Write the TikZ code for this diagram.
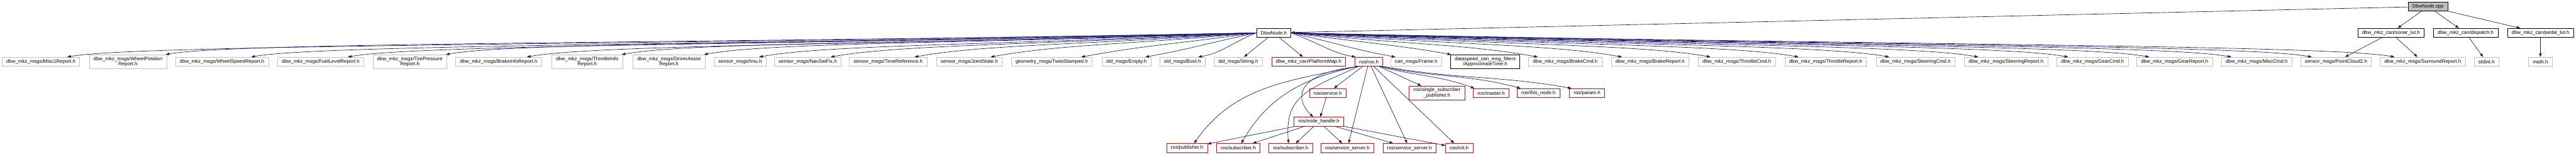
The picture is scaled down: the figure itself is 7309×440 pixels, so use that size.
\documentclass[tikz,border=0pt]{standalone}
\usepackage{fontspec}
\setmainfont{Liberation Sans}
\usetikzlibrary{arrows.meta,calc}
\definecolor{edgeblue}{HTML}{191970}
\definecolor{greyline}{HTML}{BFBFBF}
\definecolor{truncred}{HTML}{FF0000}

\tikzset{
  hdr/.style={draw=greyline, fill=white, line width=0.75pt, rectangle, inner xsep=9pt, inner ysep=2pt,
    minimum height=19.5pt, align=center, font=\fontsize{10.6}{11.5}\selectfont},
  twoline/.style={minimum height=30pt},
  redhdr/.style={hdr, draw=truncred},
  dochdr/.style={hdr, draw=black},
  srcfile/.style={hdr, draw=black, fill=greyline},
  dep/.style={draw=edgeblue, line width=0.9pt, -{Triangle[length=7.5pt,width=5.5pt]}},
}

\begin{document}
\begin{tikzpicture}[x=0.75pt,y=-0.75pt]
  \useasboundingbox (0,0) rectangle (7309,440);
  % top two rows
  \node[srcfile] (cpp) at (6889,18.5) {DbwNode.cpp};
  \node[dochdr] (dbwh) at (3614,93.5) {DbwNode.h};
  \node[dochdr] (sonar) at (6784,93.5) {dbw\_mkz\_can/sonar\_lut.h};
  \node[dochdr] (dispatch) at (6996,93.5) {dbw\_mkz\_can/dispatch.h};
  \node[dochdr] (pedal) at (7208,93.5) {dbw\_mkz\_can/pedal\_lut.h};
  % included headers
  \node[hdr] (misc1) at (116,175.5) {dbw\_mkz\_msgs/Misc1Report.h};
  \node[hdr,twoline] (wpos) at (363,175.5) {dbw\_mkz\_msgs/WheelPosition\\Report.h};
  \node[hdr] (wspeed) at (630,175.5) {dbw\_mkz\_msgs/WheelSpeedReport.h};
  \node[hdr] (fuel) at (910,175.5) {dbw\_mkz\_msgs/FuelLevelReport.h};
  \node[hdr,twoline] (tire) at (1163,175.5) {dbw\_mkz\_msgs/TirePressure\\Report.h};
  \node[hdr] (brakeinfo) at (1415,175.5) {dbw\_mkz\_msgs/BrakeInfoReport.h};
  \node[hdr,twoline] (thrinfo) at (1666,175.5) {dbw\_mkz\_msgs/ThrottleInfo\\Report.h};
  \node[hdr,twoline] (drvassist) at (1898,175.5) {dbw\_mkz\_msgs/DriverAssist\\Report.h};
  \node[hdr] (imu) at (2100,175.5) {sensor\_msgs/Imu.h};
  \node[hdr] (navsat) at (2292,175.5) {sensor\_msgs/NavSatFix.h};
  \node[hdr] (timeref) at (2520,175.5) {sensor\_msgs/TimeReference.h};
  \node[hdr] (joint) at (2750,175.5) {sensor\_msgs/JointState.h};
  \node[hdr] (twist) at (2984,175.5) {geometry\_msgs/TwistStamped.h};
  \node[hdr] (empty) at (3196,175.5) {std\_msgs/Empty.h};
  \node[hdr] (bool) at (3355,175.5) {std\_msgs/Bool.h};
  \node[hdr] (string) at (3513,175.5) {std\_msgs/String.h};
  \node[redhdr] (platmap) at (3713,175.5) {dbw\_mkz\_can/PlatformMap.h};
  \node[redhdr] (ros) at (3884,175.5) {ros/ros.h};
  \node[hdr] (frame) at (4018,175.5) {can\_msgs/Frame.h};
  \node[dochdr,twoline] (apx) at (4214,175.5) {dataspeed\_can\_msg\_filters\\/ApproximateTime.h};
  \node[hdr] (brakecmd) at (4441,175.5) {dbw\_mkz\_msgs/BrakeCmd.h};
  \node[hdr] (brakerep) at (4682,175.5) {dbw\_mkz\_msgs/BrakeReport.h};
  \node[hdr] (thrcmd) at (4928,175.5) {dbw\_mkz\_msgs/ThrottleCmd.h};
  \node[hdr] (thrrep) at (5180,175.5) {dbw\_mkz\_msgs/ThrottleReport.h};
  \node[hdr] (steercmd) at (5435,175.5) {dbw\_mkz\_msgs/SteeringCmd.h};
  \node[hdr] (steerrep) at (5692,175.5) {dbw\_mkz\_msgs/SteeringReport.h};
  \node[hdr] (gearcmd) at (5937,175.5) {dbw\_mkz\_msgs/GearCmd.h};
  \node[hdr] (gearrep) at (6170,175.5) {dbw\_mkz\_msgs/GearReport.h};
  \node[hdr] (misccmd) at (6403,175.5) {dbw\_mkz\_msgs/MiscCmd.h};
  \node[hdr] (pc2) at (6628,175.5) {sensor\_msgs/PointCloud2.h};
  \node[hdr] (surround) at (6874,175.5) {dbw\_mkz\_msgs/SurroundReport.h};
  \node[hdr] (stdint) at (7055,175.5) {stdint.h};
  \node[hdr] (mathh) at (7208,175.5) {math.h};
  % ros headers
  \node[redhdr] (service) at (3767,264.5) {ros/service.h};
  \node[redhdr,twoline] (single) at (4077,264.5) {ros/single\_subscriber\\\_publisher.h};
  \node[redhdr] (master) at (4231,264.5) {ros/master.h};
  \node[redhdr] (thisnode) at (4365,264.5) {ros/this\_node.h};
  \node[redhdr] (param) at (4503,264.5) {ros/param.h};
  \node[redhdr] (nh) at (3742,346) {ros/node\_handle.h};
  \node[redhdr] (pub) at (3368,421) {ros/publisher.h};
  \node[redhdr] (subA) at (3513,421) {ros/subscriber.h};
  \node[redhdr] (subB) at (3662,421) {ros/subscriber.h};
  \node[redhdr] (ssA) at (3823,421) {ros/service\_server.h};
  \node[redhdr] (ssB) at (3999,421) {ros/service\_server.h};
  \node[redhdr] (init) at (4140,421) {ros/init.h};

  % DbwNode.cpp and its small headers
  \foreach \t in {dbwh,sonar,dispatch,pedal}
    \draw[dep] (cpp) -- (\t);
  \draw[dep] (sonar) -- (pc2);
  \draw[dep] (sonar) -- (surround);
  \draw[dep] (dispatch) -- (stdint);
  \draw[dep] (pedal) -- (mathh);

  % DbwNode.h, fan to the left
  \foreach \t/\a/\o/\d in {misc1/north/75/200, wpos/north east/-3/200, wspeed/north/83/200,
      fuel/north/77/200, tire/north east/-3/200, brakeinfo/north/80/200, thrinfo/north east/-3/200,
      drvassist/north east/-3/200, imu/north/54/200, navsat/north/65/200, timeref/north/75/200,
      joint/north/61/200, twist/north/84/200, empty/north/54/120, bool/north/45/70}{
    \coordinate (tip) at ($(\t.\a)+(\o,0)$);
    \draw[dep] (dbwh.west) .. controls ($(dbwh.west)!0.5!(tip)$) and ($(tip)+(\d,{-0.18*\d})$) .. (tip);
  }
  \draw[dep] (dbwh) -- (string);
  \draw[dep] (dbwh) -- (platmap);
  % DbwNode.h, fan to the right
  \foreach \t/\a/\o/\d in {ros/north west/2/70, frame/north/-59/110, apx/north west/2/150,
      brakecmd/north/-78/200, brakerep/north/-80/200, thrcmd/north/-75/200, thrrep/north/-77/200,
      steercmd/north/-75/200, steerrep/north/-79/200, gearcmd/north/-69/200, gearrep/north/-72/200,
      misccmd/north/-72/200, pc2/north/-69/200, surround/north/-80/200}{
    \coordinate (tip) at ($(\t.\a)+(\o,0)$);
    \draw[dep] (dbwh.east) .. controls ($(dbwh.east)!0.5!(tip)$) and ($(tip)+(-\d,{-0.18*\d})$) .. (tip);
  }

  % ros/ros.h
  \foreach \t in {service,single,ssA,ssB,init}
    \draw[dep] (ros) -- (\t);
  \draw[dep] ($(ros.south east)+(-9,0)$) to[out=-15,in=160] ($(master.north west)+(4,0)$);
  \draw[dep] ($(ros.south east)+(-5,0)$) to[out=-12,in=165] ($(thisnode.north west)+(10,0)$);
  \draw[dep] (ros.south east) to[out=-10,in=170] ($(param.north west)+(6,0)$);
  \draw[dep] ($(ros.south west)+(5,0)$) to[out=192,in=55] ($(pub.north)+(20,0)$);
  \draw[dep] ($(ros.south west)+(7,0)$) to[out=192,in=60] ($(subA.north)+(9,0)$);
  \draw[dep] ($(ros.south west)+(10,0)$) to[out=205,in=95,out distance=113pt,in distance=105pt] ($(subB.north)+(-6,0)$);
  \draw[dep] ($(ros.south west)+(12,0)$) to[out=186,in=137,out distance=148pt,in distance=47pt] ($(nh.north)+(-16,0)$);
  % ros/service.h and ros/node_handle.h
  \draw[dep] (service) -- (nh);
  \foreach \t in {pub,subA,subB,ssA,ssB,init}
    \draw[dep] (nh) -- (\t);
\end{tikzpicture}
\end{document}
